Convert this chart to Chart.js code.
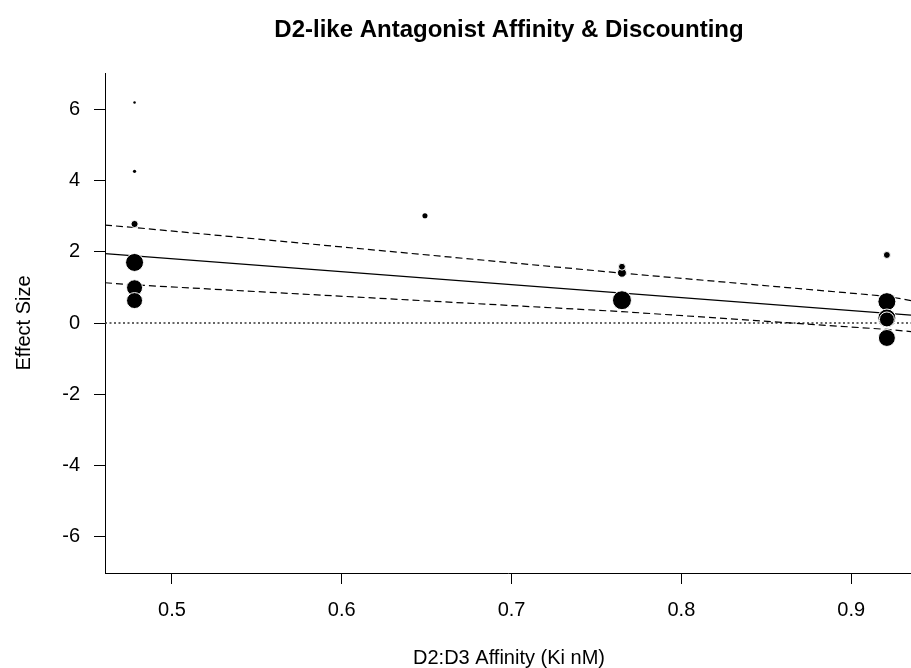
<!DOCTYPE html>
<html>
<head>
<meta charset="utf-8">
<title>D2-like Antagonist Affinity & Discounting</title>
<script src="https://cdn.jsdelivr.net/npm/chart.js@4.4.1/dist/chart.umd.min.js"></script>
<style>
  html, body { margin: 0; padding: 0; background: #fff; overflow: hidden; }
  canvas { display: block; }
</style>
</head>
<body>
<canvas id="chart" width="911" height="668"></canvas>
<script>
// Study-level effect sizes against D2:D3 affinity ratio (listed in drawing order)
const affinity   = [0.478, 0.478, 0.478, 0.478, 0.478, 0.478, 0.649, 0.765, 0.765, 0.765, 0.921, 0.921, 0.921, 0.921, 0.921];
const effectSize = [1.70, 0.99, 0.63, 2.78, 4.26, 6.19, 3.01, 0.64, 1.41, 1.58, 0.60, -0.42, 0.14, 0.10, 1.91];
const studyWeight = [81, 64, 64, 13, 2.6, 1.6, 6.5, 90, 20, 12, 81, 72, 81, 56, 12];

// Meta-regression fit and its confidence band
const fitX     = [0.4606, 0.9352];
const fitY     = [1.95, 0.22];
const bandX    = [0.4606, 0.478, 0.765, 0.921, 0.9352];
const bandUpper = [2.75, 2.68, 1.40, 0.75, 0.63];
const bandLower = [1.13, 1.07, 0.32, -0.18, -0.24];

// Axis ticks and extents
const xTicks = [0.5, 0.6, 0.7, 0.8, 0.9];
const yTicks = [-6, -4, -2, 0, 2, 4, 6];
const xRange = [0.4606, 0.9352];
const yRange = [-7.02, 7.02];

const FONT = '"Liberation Sans", Arial, Helvetica, sans-serif';

const pts = affinity.map((x, i) => ({ x: x, y: effectSize[i] }));
const radii = studyWeight.map(w => Math.sqrt(w));
// thin white outline on the larger symbols only, so tiny ones stay solid
const outlines = radii.map(r => (r >= 3 ? 1 : 0));
const toXY = (xs, ys) => xs.map((x, i) => ({ x: x, y: ys[i] }));

const textPlugin = {
  id: 'plotText',
  afterDraw(chart) {
    const ctx = chart.ctx;
    const area = chart.chartArea;
    ctx.save();
    ctx.fillStyle = '#000';
    ctx.textAlign = 'center';
    ctx.textBaseline = 'middle';
    ctx.font = 'bold 24px ' + FONT;
    ctx.fillText('D2-like Antagonist Affinity & Discounting', 509, 30);
    ctx.font = '20px ' + FONT;
    ctx.fillText('D2:D3 Affinity (Ki nM)', 509, 658);
    ctx.translate(24, (area.top + area.bottom) / 2);
    ctx.rotate(-Math.PI / 2);
    ctx.fillText('Effect Size', 0, 0);
    ctx.restore();
  }
};

const noPad = s => { s.paddingLeft = 0; s.paddingRight = 0; s.paddingTop = 0; s.paddingBottom = 0; };

new Chart(document.getElementById('chart'), {
  type: 'scatter',
  data: {
    datasets: [
      {
        label: 'Studies',
        data: pts,
        pointRadius: radii,
        pointHoverRadius: radii,
        backgroundColor: '#000',
        borderColor: '#fff',
        borderWidth: outlines,
        clip: false,
        order: 0
      },
      {
        label: 'Fit',
        type: 'line',
        data: toXY(fitX, fitY),
        borderColor: '#000',
        borderWidth: 1.2,
        pointRadius: 0,
        order: 1
      },
      {
        label: 'Upper 95% CI',
        type: 'line',
        data: toXY(bandX, bandUpper),
        borderColor: '#000',
        borderWidth: 1.2,
        borderDash: [7, 4],
        pointRadius: 0,
        order: 1
      },
      {
        label: 'Lower 95% CI',
        type: 'line',
        data: toXY(bandX, bandLower),
        borderColor: '#000',
        borderWidth: 1.2,
        borderDash: [7, 4],
        pointRadius: 0,
        order: 1
      },
      {
        label: 'Zero',
        type: 'line',
        data: toXY(xRange, [0, 0]),
        borderColor: '#333',
        borderWidth: 1.6,
        borderDash: [2, 2.5],
        pointRadius: 0,
        order: 2
      }
    ]
  },
  options: {
    responsive: false,
    devicePixelRatio: 1,
    animation: false,
    layout: { autoPadding: false, padding: { left: 0, right: 0, top: 73, bottom: 0 } },
    plugins: {
      legend: { display: false },
      tooltip: { enabled: false },
      title: { display: false }
    },
    scales: {
      x: {
        type: 'linear',
        position: 'bottom',
        min: xRange[0],
        max: xRange[1],
        afterBuildTicks: s => { s.ticks = xTicks.map(v => ({ value: v })); },
        afterFit: s => { s.height = 95; noPad(s); },
        grid: { drawOnChartArea: false, drawTicks: true, tickLength: 11, tickColor: '#000', lineWidth: 1 },
        border: { display: true, color: '#000', width: 1 },
        ticks: {
          color: '#000',
          font: { family: FONT, size: 20 },
          padding: 14,
          maxRotation: 0,
          autoSkip: false,
          callback: v => String(v)
        }
      },
      y: {
        type: 'linear',
        position: 'left',
        min: yRange[0],
        max: yRange[1],
        afterBuildTicks: s => { s.ticks = yTicks.map(v => ({ value: v })); },
        afterFit: s => { s.width = 105; noPad(s); },
        grid: { drawOnChartArea: false, drawTicks: true, tickLength: 11, tickColor: '#000', lineWidth: 1 },
        border: { display: true, color: '#000', width: 1 },
        ticks: {
          color: '#000',
          font: { family: FONT, size: 20 },
          padding: 14,
          autoSkip: false,
          callback: v => String(v)
        }
      }
    }
  },
  plugins: [textPlugin]
});
</script>
</body>
</html>
